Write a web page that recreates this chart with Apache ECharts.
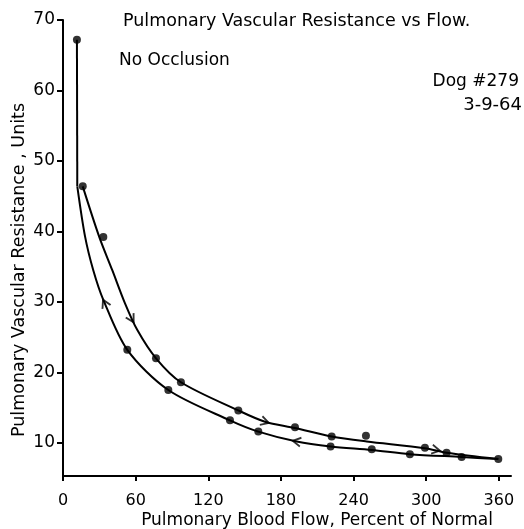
<!DOCTYPE html>
<html>
<head>
<meta charset="utf-8">
<script src="https://cdn.jsdelivr.net/npm/echarts@6/dist/echarts.min.js"></script>
<style>
  html, body { margin: 0; background: #fff; }
  #chart { width: 524px; height: 529px; }
</style>
</head>
<body>
<div id="chart"></div>
<script>
const flowTicks = [0, 60, 120, 180, 240, 300, 360]
const resTicks = [10, 20, 30, 40, 50, 60, 70]

// measured points
const pointFlow = [11.5, 16.3, 33.3, 53.1, 76.8, 87.0, 97.4, 137.9, 144.8, 161.3, 191.6, 221.9, 221.0, 250.2, 255.0, 286.5, 298.9, 316.8, 329.2, 359.5]
const pointRes = [67.2, 46.4, 39.2, 23.2, 22.0, 17.5, 18.6, 13.2, 14.6, 11.6, 12.2, 10.9, 9.5, 11.0, 9.1, 8.4, 9.3, 8.6, 8.0, 7.7]

// hand drawn curves
const upFlow = [16.3, 30.0, 40.7, 51.2, 61.4, 76.8, 97.4, 144.8, 166.8, 191.6, 221.9, 250.8, 298.9, 316.8, 359.5]
const upRes = [46.4, 39.2, 34.5, 29.8, 26.0, 22.0, 18.6, 14.6, 13.0, 12.1, 10.9, 10.2, 9.25, 8.6, 7.7]
const downFlow = [359.5, 329.2, 286.5, 255.0, 221.0, 193.0, 161.3, 137.9, 87.0, 53.1, 33.3, 25.0, 18.2, 11.8]
const downRes = [7.7, 8.0, 8.4, 9.0, 9.5, 10.2, 11.6, 13.2, 17.5, 23.2, 30.3, 34.5, 39.3, 46.4]
const riseFlow = [11.8, 11.5]
const riseRes = [46.4, 67.2]

// direction arrows on the curves
const arrowFlow = [56.7, 166.8, 308.0, 193.0, 34.5]
const arrowRes = [27.6, 13.0, 9.0, 10.2, 29.8]
const arrowTurn = [-150, -107, -101, 80, 26]

const zip = (a, b) => a.map((v, i) => [v, b[i]])
const ink = '#000'
const font = 'DejaVu Sans'
const txt = { fontSize: 17, fontWeight: 'normal', color: ink, fontFamily: font }

const chart = echarts.init(document.getElementById('chart'))
chart.setOption({
  animation: false,
  backgroundColor: '#fff',
  textStyle: { fontFamily: font, color: ink },
  title: [
    { text: 'Pulmonary Vascular Resistance vs Flow.', left: 123, top: 12, padding: 0, textStyle: { ...txt, fontSize: 17.5 } },
    { text: 'No Occlusion', left: 119, top: 52, padding: 0, textStyle: txt },
    { text: 'Dog #279', right: 5, top: 73, padding: 0, textStyle: txt },
    { text: '3-9-64', right: 2, top: 96, padding: 0, textStyle: { ...txt, fontSize: 18 } },
  ],
  grid: { left: 63, right: 13, top: 20, bottom: 53, outerBoundsMode: 'none' },
  xAxis: {
    type: 'value', min: 0, max: 370,
    name: 'Pulmonary Blood Flow, Percent of Normal',
    nameLocation: 'middle', nameGap: 36, nameMoveOverlap: false,
    nameTextStyle: { fontSize: 17, color: ink, fontFamily: font, padding: [0, 0, 0, 60] },
    axisLine: { lineStyle: { color: ink, width: 2 } },
    axisTick: { length: 5, lineStyle: { color: ink, width: 2 }, customValues: flowTicks },
    axisLabel: { fontSize: 16, color: ink, margin: 17, customValues: flowTicks },
    splitLine: { show: false },
  },
  yAxis: {
    type: 'value', min: 5.3, max: 70,
    name: 'Pulmonary Vascular Resistance , Units',
    nameLocation: 'middle', nameGap: 35, nameMoveOverlap: false,
    nameTextStyle: { fontSize: 17.5, color: ink, fontFamily: font, padding: [0, 44, 0, 0] },
    axisLine: { show: true, lineStyle: { color: ink, width: 2 } },
    axisTick: { show: true, length: 6, lineStyle: { color: ink, width: 2 }, customValues: resTicks },
    axisLabel: { fontSize: 17, color: ink, margin: 8, customValues: resTicks },
    splitLine: { show: false },
  },
  series: [
    { type: 'line', data: zip(riseFlow, riseRes), symbol: 'none', lineStyle: { color: ink, width: 2 } },
    { type: 'line', data: zip(upFlow, upRes), smooth: 0.3, symbol: 'none', lineStyle: { color: ink, width: 2 } },
    { type: 'line', data: zip(downFlow, downRes), smooth: 0.3, symbol: 'none', lineStyle: { color: ink, width: 2 } },
    {
      type: 'scatter',
      data: arrowFlow.map((f, i) => ({ value: [f, arrowRes[i]], symbolRotate: arrowTurn[i] })),
      symbol: 'path://M0 10 L5 0 L10 10', symbolSize: [9, 8],
      itemStyle: { color: 'transparent', borderColor: ink, borderWidth: 1.8 },
    },
    { type: 'scatter', data: zip(pointFlow, pointRes), symbolSize: 8, itemStyle: { color: ink } },
  ],
})
</script>
</body>
</html>
